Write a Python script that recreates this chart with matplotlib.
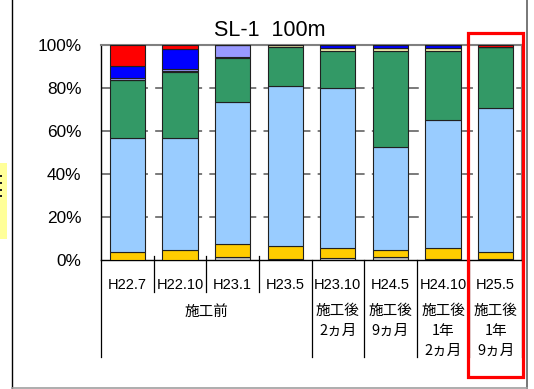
import matplotlib
matplotlib.use("Agg")
import matplotlib.pyplot as plt
from matplotlib.lines import Line2D
from matplotlib.patches import Rectangle

plt.rcParams['font.family'] = ['Liberation Sans', 'Noto Sans CJK JP', 'DejaVu Sans']
cjk = ['Noto Sans CJK JP', 'DejaVu Sans']

# survey dates and construction stage rows
dates = ["H22.7", "H22.10", "H23.1", "H23.5", "H23.10", "H24.5", "H24.10", "H25.5"]
stage_after = ["施工後\n2ヵ月", "施工後\n9ヵ月", "施工後\n1年\n2ヵ月", "施工後\n1年\n9ヵ月"]
stage_before = "施工前"

# composition (%) per date, stacked bottom to top
gray     = [0.0, 0.0, 1.5, 0.6, 0.7, 1.5, 0.6, 0.6]
yellow   = [3.9, 4.7, 5.8, 5.9, 4.7, 3.2, 4.8, 3.3]
lblue    = [52.7, 51.9, 66.3, 74.4, 74.4, 48.0, 59.7, 66.6]
green    = [27.1, 31.0, 20.4, 18.2, 17.4, 44.5, 32.1, 28.5]
tan      = [0.0, 0.5, 0.6, 0.9, 1.6, 1.6, 1.6, 0.0]
lavender = [0.8, 0.7, 5.4, 0.0, 0.0, 0.0, 0.0, 0.0]
blue     = [5.9, 9.2, 0.0, 0.0, 1.2, 1.2, 1.2, 0.0]
red      = [9.6, 2.0, 0.0, 0.0, 0.0, 0.0, 0.0, 1.0]

layers = [
    (gray, "#C0C0C0"),
    (yellow, "#FFCC00"),
    (lblue, "#99CCFF"),
    (green, "#339966"),
    (tan, "#EEE8AA"),
    (lavender, "#9999FF"),
    (blue, "#0000FF"),
    (red, "#FF0000"),
]

W, H = 534, 389
fig = plt.figure(figsize=(W / 100, H / 100), dpi=100)
ax = fig.add_axes([101 / W, (H - 260) / H, 421 / W, 215 / H])

x = list(range(len(dates)))
bottom = [0.0] * len(dates)
for vals, col in layers:
    ax.bar(x, vals, width=0.67, bottom=bottom, color=col,
           edgecolor="#202020", linewidth=0.8, zorder=3)
    bottom = [b + v for b, v in zip(bottom, vals)]

ax.set_xlim(-0.5, len(dates) - 0.5)
ax.set_ylim(0, 100)
ax.set_yticks([0, 20, 40, 60, 80, 100])
ax.set_yticklabels([f"{v}%" for v in [0, 20, 40, 60, 80, 100]], fontsize=12.4)
ax.tick_params(axis="y", length=0, pad=14)
ax.set_xticks([])
for yv in [20, 40, 60, 80]:
    ax.axhline(yv, color="#707070", linewidth=1.3, linestyle=(0, (6, 4)), zorder=1)

for s in ["top", "right"]:
    ax.spines[s].set_color("#808080")
    ax.spines[s].set_linewidth(1.5)
ax.spines["left"].set_linewidth(1.0)
ax.spines["bottom"].set_linewidth(1.0)

fig.text(270 / W, (H - 30) / H, "SL-1  100m", fontsize=15.5, ha="center", va="center")

# table under the bars
tr = ax.get_xaxis_transform()
for i in range(len(dates) + 1):
    xd = i - 0.5
    if i in (1, 2, 3):
        y0, y1 = 0.02, -0.149
    else:
        y0, y1 = 0.0, -0.451
    ax.add_line(Line2D([xd, xd], [y0, y1], transform=tr, color="black",
                       linewidth=0.9, clip_on=False))

for i, d in enumerate(dates):
    ax.text(i, -0.116, d, transform=tr, ha="center", va="center",
            fontsize=10.5, clip_on=False)

ax.text(1.5, -0.24, stage_before, transform=tr, ha="center", va="center",
        fontsize=10.5, family=cjk, clip_on=False)
for i, s in enumerate(stage_after):
    ax.text(4 + i, -0.205, s, transform=tr, ha="center", va="top",
            fontsize=10.5, family=cjk, linespacing=1.55, clip_on=False)

# highlight box around the latest survey
ax.add_patch(Rectangle((6.47, -0.544), 1.04, 1.598, transform=tr, fill=False,
                       edgecolor="#FF0000", linewidth=2.3, clip_on=False, zorder=5))

# outer frame and side note box
fig.add_artist(Line2D([12 / W, 12 / W], [0, 1], color="black", linewidth=1.0))
fig.add_artist(Line2D([527 / W, 527 / W], [0, 1], color="#606060", linewidth=1.2))
fig.add_artist(Line2D([12 / W, 527 / W], [1.5 / H, 1.5 / H], color="#A0A0A0", linewidth=1.2))
fig.add_artist(Rectangle((0, (H - 239) / H), 7 / W, 76 / H, transform=fig.transFigure,
                         facecolor="#FFFF99", edgecolor="none"))
for yy in [177, 184, 191, 197]:
    fig.add_artist(Rectangle((0, (H - yy) / H), 2 / W, 2 / H, transform=fig.transFigure,
                             facecolor="#202020", edgecolor="none"))

fig.savefig("out.png", dpi=100)
